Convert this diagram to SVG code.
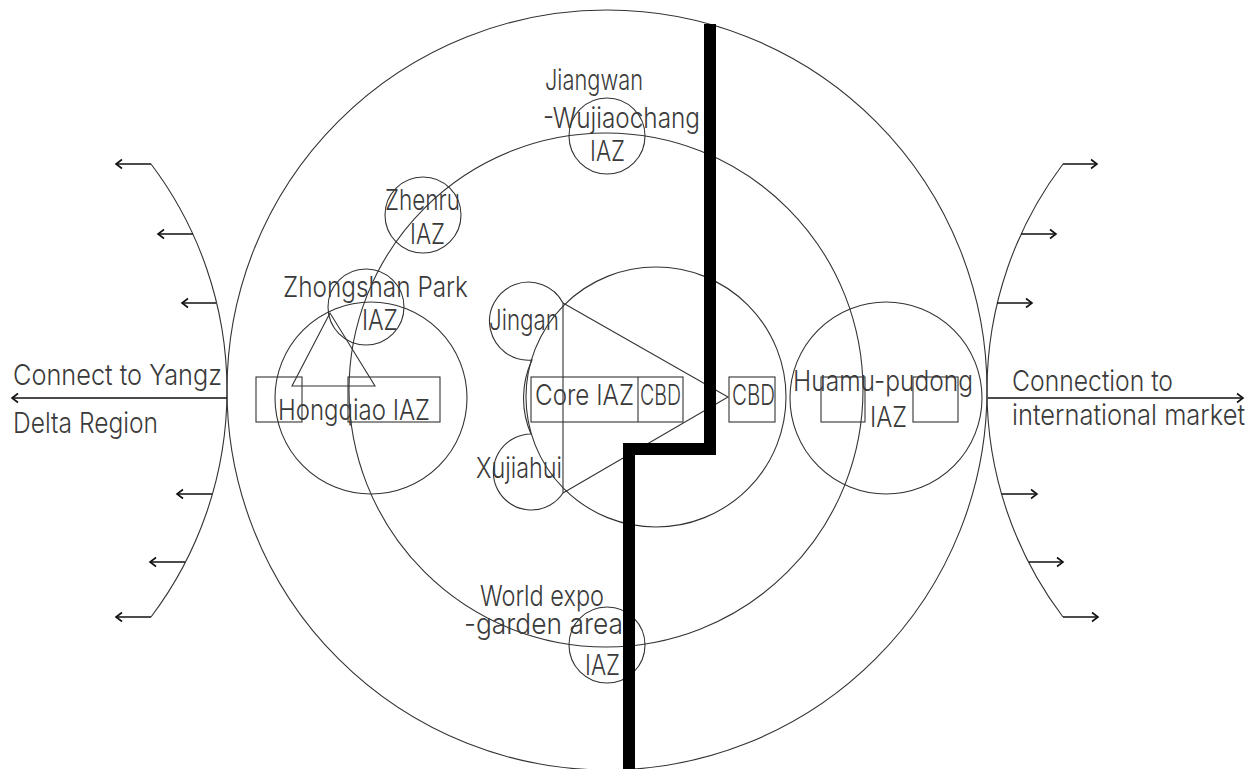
<svg xmlns="http://www.w3.org/2000/svg" width="1258" height="769" viewBox="0 0 1258 769">
<style>
.ln{fill:none;stroke:#333;stroke-width:1.1}
.bx{fill:none;stroke:#333;stroke-width:1.1}
.ar{fill:none;stroke:#111;stroke-width:1.7;marker-end:url(#chev)}
.t{font-family:Inter,Roboto,"Liberation Sans Narrow","Liberation Sans",sans-serif;font-weight:300;font-size:29px;fill:#3a3a3a}
</style>
<defs>
<marker id="chev" markerUnits="userSpaceOnUse" markerWidth="14" markerHeight="14" viewBox="-8 -7 10 14" refX="0" refY="0" orient="auto">
<path d="M-6,-4.5 L0,0 L-6,4.5" fill="none" stroke="#111" stroke-width="1.6"/>
</marker>
</defs>
<rect width="1258" height="769" fill="#fff"/>

<g id="rings">
<circle class="ln" cx="607" cy="390" r="380"/>
<circle class="ln" cx="606" cy="390" r="257"/>
</g>

<g id="left-region">
<path class="ln" d="M151,164 A375.5,375.5 0 0 1 151,617"/>
<text class="t" x="13" y="385" textLength="209" lengthAdjust="spacingAndGlyphs">Connect to Yangz</text>
<text class="t" x="13" y="433" textLength="145" lengthAdjust="spacingAndGlyphs">Delta Region</text>
</g>

<g id="right-region">
<path class="ln" d="M1063,164 A375.5,375.5 0 0 0 1063,617"/>
<text class="t" x="1012" y="391" textLength="161" lengthAdjust="spacingAndGlyphs">Connection to</text>
<text class="t" x="1012" y="425" textLength="233" lengthAdjust="spacingAndGlyphs">international market</text>
</g>

<g id="jiangwan">
<circle class="ln" cx="607" cy="136" r="38"/>
<text class="t" x="545" y="90" textLength="98" lengthAdjust="spacingAndGlyphs">Jiangwan</text>
<text class="t" x="543" y="128" textLength="157" lengthAdjust="spacingAndGlyphs">-Wujiaochang</text>
<text class="t" x="590" y="161" textLength="35" lengthAdjust="spacingAndGlyphs">IAZ</text>
</g>

<g id="zhenru">
<circle class="ln" cx="423" cy="215" r="38"/>
<text class="t" x="385" y="210" textLength="75" lengthAdjust="spacingAndGlyphs">Zhenru</text>
<text class="t" x="410" y="244" textLength="35" lengthAdjust="spacingAndGlyphs">IAZ</text>
</g>

<g id="zhongshan">
<circle class="ln" cx="366" cy="307" r="38"/>
<text class="t" x="283" y="297" textLength="185" lengthAdjust="spacingAndGlyphs">Zhongshan Park</text>
<text class="t" x="362" y="330" textLength="36" lengthAdjust="spacingAndGlyphs">IAZ</text>
</g>

<g id="hongqiao">
<circle class="ln" cx="371" cy="398" r="96"/>
<path class="ln" d="M330,313 L292,386 L375,386 Z"/>
<rect class="bx" x="256" y="377" width="46" height="45"/>
<rect class="bx" x="348" y="377" width="92" height="45"/>
<text class="t" x="278" y="420" textLength="152" lengthAdjust="spacingAndGlyphs">Hongqiao IAZ</text>
</g>

<g id="core">
<circle class="ln" cx="656" cy="397" r="130"/>
<path class="ln" d="M563,303 A39,39 0 1 0 532,360 A90,90 0 0 0 531,434 A38,38 0 1 0 563,493"/>
<path class="ln" d="M563,303 V493 M563,303 L728,397 L563,493"/>
<rect class="bx" x="531" y="377" width="152" height="45"/>
<line class="ln" x1="638" y1="377" x2="638" y2="422"/>
<rect class="bx" x="729" y="377" width="46" height="45"/>
<text class="t" x="489" y="330" textLength="70" lengthAdjust="spacingAndGlyphs">Jingan</text>
<text class="t" x="476" y="478" textLength="86" lengthAdjust="spacingAndGlyphs">Xujiahui</text>
<text class="t" x="535" y="405" textLength="99" lengthAdjust="spacingAndGlyphs">Core IAZ</text>
<text class="t" x="640" y="405" textLength="41" lengthAdjust="spacingAndGlyphs">CBD</text>
<text class="t" x="732" y="405" textLength="43" lengthAdjust="spacingAndGlyphs">CBD</text>
</g>

<g id="huamu">
<circle class="ln" cx="886" cy="398" r="96"/>
<rect class="bx" x="821" y="377" width="44" height="45"/>
<rect class="bx" x="913" y="377" width="45" height="45"/>
<text class="t" x="793" y="391" textLength="180" lengthAdjust="spacingAndGlyphs">Huamu-pudong</text>
<text class="t" x="870" y="427" textLength="37" lengthAdjust="spacingAndGlyphs">IAZ</text>
</g>

<g id="worldexpo">
<circle class="ln" cx="607" cy="645" r="38"/>
<text class="t" x="480" y="606" textLength="124" lengthAdjust="spacingAndGlyphs">World expo</text>
<text class="t" x="464" y="634" textLength="159" lengthAdjust="spacingAndGlyphs">-garden area</text>
<text class="t" x="585" y="675" textLength="35" lengthAdjust="spacingAndGlyphs">IAZ</text>
</g>

<g id="divider">
<path d="M710,24 V449 H629 V769" fill="none" stroke="#000" stroke-width="12" stroke-linejoin="miter"/>
</g>

<g id="connectors">
<line class="ar" x1="227" y1="398" x2="12" y2="398"/>
<line class="ar" x1="151" y1="164" x2="116" y2="164"/>
<line class="ar" x1="193" y1="234" x2="158" y2="234"/>
<line class="ar" x1="216" y1="303" x2="182" y2="303"/>
<line class="ar" x1="212" y1="494" x2="177" y2="494"/>
<line class="ar" x1="185" y1="562" x2="150" y2="562"/>
<line class="ar" x1="151" y1="617" x2="116" y2="617"/>
<line class="ar" x1="988" y1="398" x2="1243" y2="398"/>
<line class="ar" x1="1063" y1="164" x2="1097" y2="164"/>
<line class="ar" x1="1021" y1="234" x2="1056" y2="234"/>
<line class="ar" x1="997" y1="303" x2="1032" y2="303"/>
<line class="ar" x1="1002" y1="494" x2="1037" y2="494"/>
<line class="ar" x1="1029" y1="562" x2="1063" y2="562"/>
<line class="ar" x1="1063" y1="617" x2="1098" y2="617"/>
</g>
</svg>
